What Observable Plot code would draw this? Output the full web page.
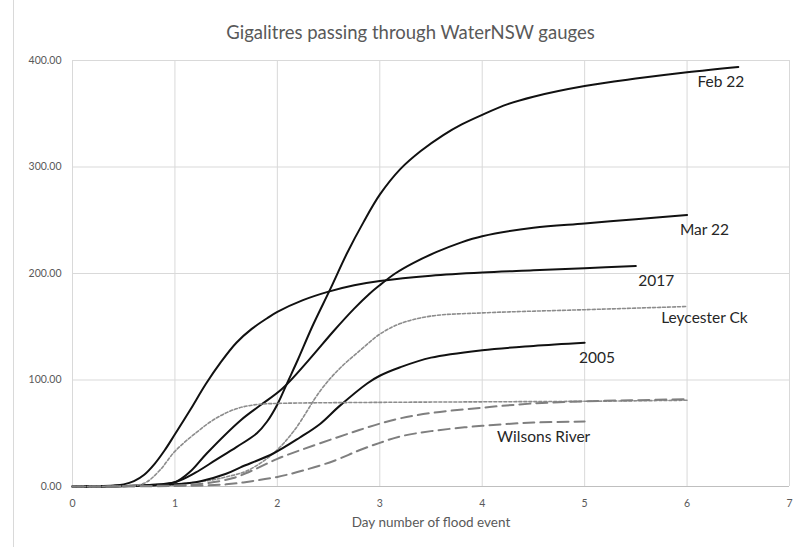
<!DOCTYPE html>
<html>
<head>
<meta charset="utf-8">
<script src="https://cdn.jsdelivr.net/npm/d3@7"></script>
<script src="https://cdn.jsdelivr.net/npm/@observablehq/plot@0.6"></script>
<style>
  html, body { margin: 0; padding: 0; background: #fff; }
  #wrap { position: relative; width: 799px; height: 547px; overflow: hidden; }
  #border { position: absolute; left: 13px; top: 0; width: 1px; height: 547px; background: #d9d9d9; }
  #title { height: 45px; width: 799px; box-sizing: border-box; padding-left: 22px; padding-top: 21px; text-align: center;
           font-family: Lato, "Open Sans", sans-serif; font-size: 18.5px; color: #595959; line-height: 22px; }
</style>
</head>
<body>
<div id="wrap">
  <div id="border"></div>
  <div id="title">Gigalitres passing through WaterNSW gauges</div>
  <div id="chart"></div>
</div>
<script>
// ---- Data ----
const seriesNames = ["Feb 22", "Mar 22", "2017", "Leycester Ck", "2005", "Early gauge", "Upper gauge", "Wilsons River"];

const feb22Days   = [0, 0.5, 0.75, 1, 1.2, 1.4, 1.6, 1.8, 1.9, 2, 2.1, 2.2, 2.34, 2.52, 2.68, 2.84, 3, 3.2, 3.4, 3.62, 3.8, 4, 4.25, 4.5, 5, 5.5, 6, 6.5];
const feb22Values = [0, 0.5, 1.5, 4, 13, 25, 37, 50, 61, 77, 98, 119, 150, 186, 219, 248, 274, 298, 315, 330, 340, 349, 359, 366, 376, 383, 389, 394];

const mar22Days   = [0, 0.5, 0.75, 1, 1.15, 1.31, 1.64, 1.83, 2.05, 2.3, 2.55, 2.75, 2.9, 3, 3.15, 3.33, 3.55, 3.79, 4, 4.5, 5, 5.5, 6];
const mar22Values = [0, 0.5, 1, 4, 14, 31, 62, 76, 92, 118, 146, 167, 181, 189, 200, 210, 220, 229, 235, 243, 247, 251, 255];

const y2017Days   = [0, 0.4, 0.5, 0.6, 0.7, 0.8, 0.9, 1, 1.15, 1.3, 1.45, 1.6, 1.75, 1.9, 2, 2.25, 2.5, 2.75, 3, 3.5, 4, 4.5, 5, 5.5];
const y2017Values = [0, 1, 2, 5, 11, 21, 34, 49, 72, 96, 117, 135, 148, 158, 164, 175, 183, 189, 193, 198, 201, 203, 205, 207];

const leycesterDays   = [0, 0.5, 0.86, 1, 1.35, 1.5, 1.71, 1.96, 2.16, 2.42, 2.6, 2.81, 3, 3.2, 3.5, 4, 5, 6];
const leycesterValues = [0, 0.5, 1, 2, 6, 9, 15, 31, 52, 90, 110, 128, 143, 153, 160, 163, 166, 169];

const y2005Days   = [0, 0.5, 1, 1.25, 1.5, 1.64, 1.96, 2.22, 2.42, 2.6, 2.88, 3, 3.2, 3.5, 4, 4.5, 5];
const y2005Values = [0, 0.3, 2, 5, 12, 18, 31, 46, 59, 75, 97, 104, 112, 121, 128, 132, 135];

const earlyDays   = [0, 0.5, 0.7, 0.85, 1, 1.2, 1.4, 1.6, 1.8, 2, 3, 4, 5, 6];
const earlyValues = [0, 0.5, 3, 15, 33, 50, 64, 73, 77, 78, 79, 79.5, 80, 81];

const upperDays   = [0, 1, 1.3, 1.57, 1.8, 2, 2.25, 2.55, 2.8, 3, 3.2, 3.5, 4, 4.5, 5, 5.5, 6];
const upperValues = [0, 1, 3, 8, 17, 26, 35, 45, 53, 59, 64, 69, 74, 78, 80, 81, 82];

const wilsonsDays   = [0, 1, 1.5, 1.75, 2, 2.25, 2.55, 2.8, 3, 3.2, 3.5, 4, 4.5, 5];
const wilsonsValues = [0, 0.5, 2, 5, 9, 15, 24, 34, 41, 47, 52, 57, 60, 61];

const labelTexts  = ["Feb 22", "Mar 22", "2017", "Leycester Ck", "2005", "Wilsons River"];
const labelDays   = [6.33, 6.17, 5.7, 6.17, 5.12, 4.6];
const labelValues = [380, 241, 193, 158, 121, 46];

const xTicks = [0, 1, 2, 3, 4, 5, 6, 7];
const yTicks = [0, 100, 200, 300, 400];

// ---- Build tables ----
const seriesData = [
  [feb22Days, feb22Values], [mar22Days, mar22Values], [y2017Days, y2017Values],
  [leycesterDays, leycesterValues], [y2005Days, y2005Values], [earlyDays, earlyValues],
  [upperDays, upperValues], [wilsonsDays, wilsonsValues]
];
const rows = seriesData.map(([d, v], i) => d.map((day, j) => ({series: seriesNames[i], day, value: v[j]})));
const labels = labelTexts.map((t, i) => ({text: t, day: labelDays[i], value: labelValues[i]}));

const solidStyle  = {stroke: "#111", strokeWidth: 2};
const dottedStyle = {stroke: "#8c8c8c", strokeWidth: 1.6, strokeDasharray: "3,2"};
const dashStyle   = {stroke: "#7f7f7f", strokeWidth: 2, strokeDasharray: "11,6"};
const styles = [solidStyle, solidStyle, solidStyle, dottedStyle, solidStyle, dottedStyle, dashStyle, dashStyle];

const lineMarks = rows.map((r, i) => Plot.line(r, {x: "day", y: "value", curve: "catmull-rom", ...styles[i]}));

const chart = Plot.plot({
  width: 799,
  height: 502,
  marginTop: 15,
  marginBottom: 61,
  marginLeft: 72,
  marginRight: 10,
  style: {fontFamily: "Lato, 'Open Sans', sans-serif", background: "#fff", color: "#595959"},
  x: {domain: [0, 7], ticks: xTicks, label: null},
  y: {domain: [0, 400], ticks: yTicks, label: null},
  marks: [
    Plot.gridX(xTicks, {stroke: "#d9d9d9", strokeOpacity: 1}),
    Plot.gridY(yTicks, {stroke: "#d9d9d9", strokeOpacity: 1}),
    Plot.ruleY([0], {stroke: "#bfbfbf"}),
    Plot.axisX(xTicks, {tickSize: 0, tickPadding: 13, fontSize: 10.5, fill: "#595959", label: null, tickFormat: d3.format("d")}),
    Plot.axisY(yTicks, {tickSize: 0, tickPadding: 11, fontSize: 10.5, fill: "#595959", label: null, tickFormat: d3.format(".2f")}),
    ...lineMarks,
    Plot.text(labels, {x: "day", y: "value", text: "text", fontSize: 15.5, fill: "#262626"}),
    Plot.text(["Day number of flood event"], {frameAnchor: "bottom", dy: 40, fontSize: 13.5, fill: "#595959"})
  ]
});
document.getElementById("chart").appendChild(chart);
</script>
</body>
</html>
